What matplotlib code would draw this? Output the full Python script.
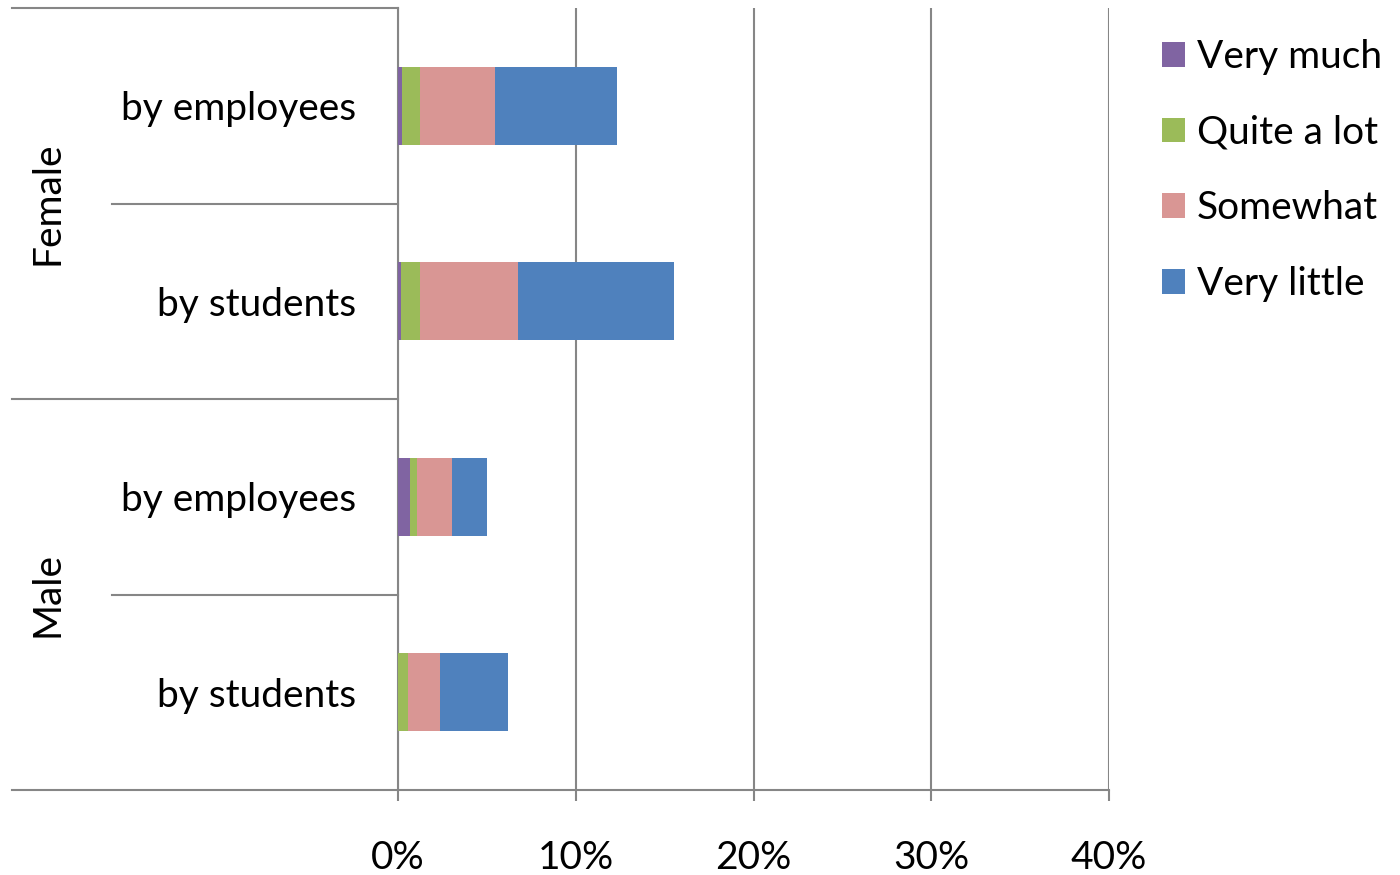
import matplotlib
matplotlib.use("Agg")
import matplotlib.pyplot as plt
from matplotlib.patches import Patch

# ── Data (share of respondents, %) ────────────────────────────────────────────
categories = ["by employees", "by students", "by employees", "by students"]
groups = ["Female", "Male"]
series = ["Very much", "Quite a lot", "Somewhat", "Very little"]
very_much = [0.25, 0.17, 0.69, 0.0]
quite_a_lot = [0.97, 1.07, 0.36, 0.58]
somewhat = [4.24, 5.51, 2.01, 1.78]
very_little = [6.85, 8.76, 1.97, 3.85]
xticks = [0, 10, 20, 30, 40]

colors = ["#8064A2", "#9BBB59", "#D99694", "#4F81BD"]
grid_c = "#868686"
FONT = ["Lato", "DejaVu Sans"]
plt.rcParams["font.family"] = FONT
FS = 28

W, H = 1400, 875
fig = plt.figure(figsize=(14, 8.75), dpi=100)
x0, x1, y_top, y_bot = 398, 1109, 8, 790
ax = fig.add_axes([x0 / W, (H - y_bot) / H, (x1 - x0) / W, (y_bot - y_top) / H])

ypos = [0.5, 1.5, 2.5, 3.5]
left = [0.0] * 4
for name, vals, c in zip(series, [very_much, quite_a_lot, somewhat, very_little], colors):
    ax.barh(ypos, vals, left=left, height=0.4, color=c, label=name, zorder=3)
    left = [l + v for l, v in zip(left, vals)]

ax.set_xlim(0, 40)
ax.set_ylim(4, 0)
ax.set_xticks(xticks)
ax.set_xticklabels([f"{t}%" for t in xticks], fontsize=FS)
ax.tick_params(axis="x", direction="out", length=8, width=1.5, color=grid_c, pad=28)
ax.set_yticks(ypos)
ax.set_yticklabels(categories, fontsize=FS)
ax.tick_params(axis="y", length=0, pad=30)
ax.grid(axis="x", color=grid_c, lw=1.5, zorder=0)

for s in ["top", "right"]:
    ax.spines[s].set_visible(False)
for s in ["left", "bottom"]:
    ax.spines[s].set_color(grid_c)
    ax.spines[s].set_linewidth(1.5)

# multi-level category axis lines on the left
xa = lambda px: (px - x0) / (x1 - x0)
for yv, start in [(0, 12), (1, 112), (2, 12), (3, 112), (4, 12)]:
    ax.plot([xa(start), 0], [yv, yv], color=grid_c, lw=1.5, clip_on=False,
            transform=ax.get_yaxis_transform())

for g, yc in zip(groups, [1.0, 3.0]):
    ax.text(xa(48), yc, g, rotation=90, ha="center", va="center", fontsize=FS,
            transform=ax.get_yaxis_transform())

handles = [Patch(facecolor=c, label=n) for n, c in zip(series, colors)]
fig.legend(handles=handles, loc="upper left", bbox_to_anchor=(1162 / W, 1 - 39 / H),
           frameon=False, fontsize=FS, handlelength=0.6, handleheight=0.6,
           handletextpad=0.3, labelspacing=1.02, borderaxespad=0, borderpad=0)

fig.savefig("out.png", dpi=100)
